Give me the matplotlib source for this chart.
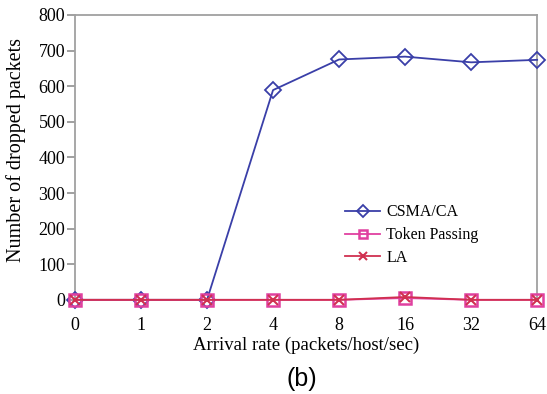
import matplotlib
matplotlib.use("Agg")
import matplotlib.pyplot as plt

# data
rates = ["0", "1", "2", "4", "8", "16", "32", "64"]
csma_ca = [0, 0, 0, 589, 675, 683, 667, 674]
token_passing = [0, 0, 0, 0, 0, 5, 0, 0]
la = [0, 0, 0, 0, 0, 8, 0, 0]

plt.rcParams["font.family"] = ["Liberation Serif", "DejaVu Serif"]

fig = plt.figure(figsize=(5.47, 3.94), dpi=100)
ax = fig.add_axes([0.137, 0.239, 0.845, 0.723])

x = range(len(rates))
ax.plot(x, csma_ca, color="#3a3fa8", marker="D", markersize=8, mfc="none",
        mew=1.3, lw=1.3, label="CSMA/CA", clip_on=False, zorder=3)
ax.plot(x, token_passing, color="#e040a0", marker="s", markersize=8, mfc="none",
        mew=1.8, lw=1.3, label="Token Passing", clip_on=False, zorder=4)
ax.plot(x, la, color="#d03050", marker="x", markersize=7, mew=1.5, lw=1.3,
        label="LA", clip_on=False, zorder=5)

ax.set_xlim(0, len(rates) - 1)
ax.set_ylim(0, 800)
ax.set_yticks(range(0, 801, 100))
ax.set_xticks(list(x))
ax.set_xticklabels(rates)
ax.tick_params(axis="both", labelsize=13)
ax.tick_params(axis="x", length=0, pad=12)
ax.tick_params(axis="y", length=6, width=1.2, color="#909090", pad=1)

for side in ["left", "top", "right"]:
    ax.spines[side].set_color("#a0a0a0")
    ax.spines[side].set_linewidth(1.3)
ax.spines["bottom"].set_visible(False)

ax.set_xlabel("Arrival rate (packets/host/sec)", fontsize=13.5, labelpad=2)
ax.set_ylabel("Number of dropped packets", fontsize=14.5)
ax.yaxis.set_label_coords(-0.106, 0.526)

ax.legend(loc="lower left", bbox_to_anchor=(0.56, 0.08), frameon=False,
          fontsize=11.5, handlelength=2.2, handletextpad=0.4,
          labelspacing=0.42, borderpad=0.2, markerscale=0.75)

fig.text(0.552, 0.02, "(b)", fontsize=18, ha="center",
         family=["Liberation Sans", "DejaVu Sans"])

fig.savefig("out.png", dpi=100)
